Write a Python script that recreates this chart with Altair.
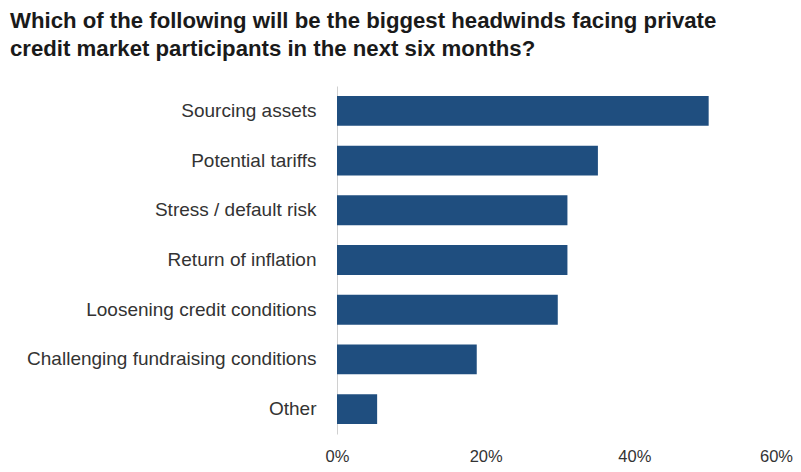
import altair as alt
import pandas as pd

categories = [
    "Sourcing assets",
    "Potential tariffs",
    "Stress / default risk",
    "Return of inflation",
    "Loosening credit conditions",
    "Challenging fundraising conditions",
    "Other",
]
values = [50.0, 35.1, 31.0, 31.0, 29.7, 18.8, 5.4]
x_ticks = [0, 20, 40, 60]
title_lines = [
    "Which of the following will be the biggest headwinds facing private",
    "credit market participants in the next six months?",
]

df = pd.DataFrame({"cat": categories, "val": values})

chart = (
    alt.Chart(df)
    .mark_bar(color="#1F4E7F")
    .encode(
        x=alt.X(
            "val:Q",
            scale=alt.Scale(domain=[0, 60], nice=False),
            axis=alt.Axis(
                values=x_ticks,
                labelExpr="datum.value + '%'",
                title=None,
                domain=False,
                ticks=False,
                grid=False,
                labelFont="Liberation Sans",
                labelFontSize=16.5,
                labelColor="#333333",
                labelPadding=14,
                labelFlush=False,
                labelOffset={"expr": "datum.value == 60 ? -7 : 0"},
            ),
        ),
        y=alt.Y(
            "cat:N",
            sort=categories,
            scale=alt.Scale(paddingInner=0.4, paddingOuter=0.2),
            axis=alt.Axis(
                title=None,
                ticks=False,
                grid=False,
                domain=True,
                domainColor="#d0d0d0",
                domainWidth=1,
                labelFont="Liberation Sans",
                labelFontSize=19,
                labelColor="#333333",
                labelPadding=21,
                labelLimit=400,
            ),
        ),
    )
    .properties(
        width=446,
        height=348,
        autosize=alt.AutoSizeParams(type="none"),
        padding={"left": 329, "top": 78, "right": 10, "bottom": 30},
        title=alt.TitleParams(
            text=title_lines,
            anchor="start",
            frame="group",
            dx=-327,
            offset=26,
            font="Liberation Sans",
            fontSize=22.2,
            fontWeight="bold",
            color="#1a1a1a",
            lineHeight=28,
        ),
    )
    .configure_view(stroke=None)
)

chart.save("out.html", embed_options={"renderer": "svg", "actions": False})
